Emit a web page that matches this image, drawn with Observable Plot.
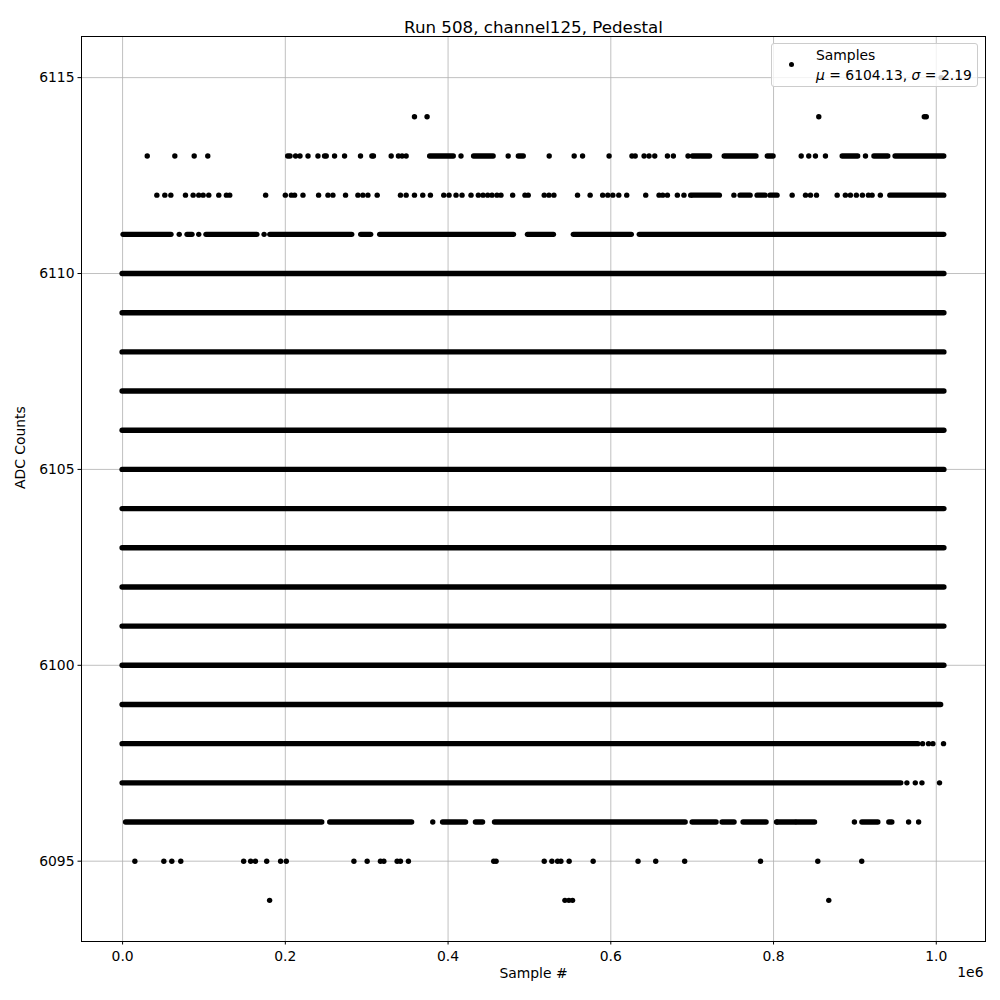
<!DOCTYPE html>
<html>
<head>
<meta charset="utf-8">
<script src="https://cdn.jsdelivr.net/npm/d3@7"></script>
<script src="https://cdn.jsdelivr.net/npm/@observablehq/plot@0.6"></script>
<style>
  html, body { margin: 0; padding: 0; background: #fff; }
  #wrap { position: relative; width: 1000px; height: 1000px; font-family: "DejaVu Sans", sans-serif; }
  #legend { position: absolute; left: 771px; top: 43px; width: 205px; height: 42px;
    background: rgba(255,255,255,0.8); border: 1px solid #cccccc; border-radius: 3px; }
  #legend .dot { position: absolute; left: 17px; top: 18px; width: 5.4px; height: 5.4px; border-radius: 50%; background: #000; }
  #legend .l1 { position: absolute; left: 44px; top: 1px; font-size: 13.9px; line-height: 20px; white-space: nowrap; }
  #legend .l2 { position: absolute; left: 44px; top: 21px; font-size: 13.9px; line-height: 20px; white-space: nowrap; }
  #legend i { font-style: oblique; }
</style>
</head>
<body>
<div id="wrap"></div>
<script>
// ---------- data ----------
const title = "Run 508, channel125, Pedestal";
const xLabel = "Sample #";
const yLabel = "ADC Counts";
const legendLabel = "Samples";
const legendMu = "6104.13";
const legendSigma = "2.19";
const xTicks = [0, 200000, 400000, 600000, 800000, 1000000];
const yTicks = [6095, 6100, 6105, 6110, 6115];

// rows that are densely filled (ADC level, first sample, last sample)
const denseLevels = [6110, 6109, 6108, 6107, 6106, 6105, 6104, 6103, 6102, 6101, 6100, 6099, 6098, 6097];
const denseStart  = [0, 0, 0, 0, 0, 0, 0, 0, 0, 0, 0, 0, 0, 0];
const denseEnd    = [1010000, 1010000, 1010000, 1010000, 1010000, 1010000, 1010000, 1010000, 1010000, 1010000, 1010000, 1006000, 977900, 957000];

// runs of densely packed samples in the sparse rows: [start, end]
const runs6113 = [[203500, 206400], [378000, 407000], [432000, 456000], [487000, 493000], [701000, 722000], [740000, 779000], [793000, 800000], [885000, 904000], [924000, 941000], [950000, 1009800]];
const runs6112 = [[701000, 734000], [759500, 771800], [780400, 790200], [796300, 804900], [943600, 1009800]];
const runs6111 = [[1200, 60100], [79800, 85900], [103100, 165600], [181600, 282200], [293300, 305500], [316600, 481000], [498200, 530100], [554600, 625800], [635600, 1009800]];
const runs6096 = [[4300, 245400], [255200, 339900], [342300, 355800], [393900, 422100], [434300, 443000], [457700, 692000], [700600, 730000], [737400, 752100], [763200, 791400], [805300, 827000], [828900, 851000], [909200, 928800], [942300, 946000]];

// isolated samples
const dots6115 = [1006000];
const dots6114 = [358700, 374200, 855600, 985300, 987700];
const dots6113 = [30300, 64200, 88000, 104700, 212600, 218000, 227900, 240100, 248200, 250300, 260500, 272800, 292400, 306400, 308300, 330100, 339000, 343500, 348500, 415900, 473900, 524300, 555000, 565300, 597900, 626000, 630000, 640900, 647000, 654000, 669600, 676900, 694900, 834000, 843300, 851500, 863800, 913000];
const dots6112 = [42100, 51900, 59300, 77300, 86700, 93600, 99000, 105900, 118200, 127600, 131700, 175800, 200000, 207400, 211400, 221700, 240900, 252400, 258500, 274000, 289200, 295300, 301500, 312900, 341500, 348500, 358700, 368900, 378300, 394700, 401200, 409800, 417200, 428200, 437200, 443000, 448700, 454000, 460100, 465000, 479400, 494500, 498500, 518200, 524000, 530100, 559100, 574600, 590000, 596300, 602500, 609800, 619600, 642900, 659300, 663800, 669600, 681800, 689900, 698200, 751300, 822900, 839300, 845400, 852800, 878200, 888300, 894500, 901800, 909200, 916600, 921100, 931300];
const dots6111 = [69600, 93600, 173900];
const dots6098 = [983200, 990500, 995900, 1008900];
const dots6097 = [963900, 974200, 982400, 1004000];
const dots6096 = [381200, 803700, 899400, 966000, 978300];
const dots6095 = [15100, 50700, 60500, 71500, 148800, 157400, 163200, 177100, 194200, 201200, 284300, 300600, 316900, 321100, 337400, 341500, 351300, 456100, 459000, 518200, 527600, 534600, 538700, 548800, 578300, 633500, 655200, 690800, 784000, 854400, 908400];
const dots6094 = [180700, 543600, 548500, 553000, 867900];

// ---------- build tables ----------
const segs = [];
denseLevels.forEach((v, i) => segs.push({y: v, x1: denseStart[i], x2: denseEnd[i]}));
[[6113, runs6113], [6112, runs6112], [6111, runs6111], [6096, runs6096]].forEach(([v, rs]) =>
  rs.forEach(([a, b]) => segs.push({y: v, x1: a, x2: b})));
const pts = [];
[[6115, dots6115], [6114, dots6114], [6113, dots6113], [6112, dots6112], [6111, dots6111],
 [6098, dots6098], [6097, dots6097], [6096, dots6096], [6095, dots6095], [6094, dots6094]]
  .forEach(([v, xs]) => xs.forEach(x => pts.push({x, y: v})));

const FONT = "DejaVu Sans, sans-serif";
const chart = Plot.plot({
  width: 1000, height: 1000,
  marginLeft: 81, marginRight: 15, marginTop: 36, marginBottom: 59,
  style: {fontFamily: FONT, fontSize: "13.9px", color: "#000", background: "#fff"},
  x: {domain: [-50500, 1060500], ticks: xTicks, tickFormat: d => (d / 1e6).toFixed(1)},
  y: {domain: [6092.95, 6116.05], ticks: yTicks, tickFormat: d => String(d)},
  marks: [
    Plot.gridX(xTicks, {stroke: "#b0b0b0", strokeOpacity: 1, strokeWidth: 0.8}),
    Plot.gridY(yTicks, {stroke: "#b0b0b0", strokeOpacity: 1, strokeWidth: 0.8}),
    Plot.ruleY(segs, {y: "y", x1: "x1", x2: "x2", stroke: "#000", strokeWidth: 5.4, strokeLinecap: "round"}),
    Plot.dot(pts, {x: "x", y: "y", r: 2.7, fill: "#000", stroke: "none"}),
    Plot.frame({stroke: "#000", strokeWidth: 1}),
    Plot.axisX(xTicks, {tickSize: 3.5, tickPadding: 6, label: null, fontSize: 13.9, tickFormat: d => (d / 1e6).toFixed(1)}),
    Plot.axisY(yTicks, {tickSize: 3.5, tickPadding: 3.5, label: null, fontSize: 13.9, tickFormat: d => String(d)}),
    Plot.text([title], {frameAnchor: "top", dy: -15, fontSize: 16.7, text: d => d}),
    Plot.text([xLabel], {frameAnchor: "bottom", dy: 36, fontSize: 13.9, text: d => d}),
    Plot.text([yLabel], {frameAnchor: "left", dx: -61, rotate: -90, fontSize: 13.9, text: d => d}),
    Plot.text(["1e6"], {frameAnchor: "bottom-right", dy: 35, dx: -2, textAnchor: "end", fontSize: 13.9, text: d => d})
  ]
});
const wrap = document.getElementById("wrap");
wrap.appendChild(chart);

const lg = document.createElement("div");
lg.id = "legend";
lg.innerHTML = `<div class="dot"></div><div class="l1">${legendLabel}</div>` +
  `<div class="l2"><i>μ</i> = ${legendMu}, <i>σ</i> = ${legendSigma}</div>`;
wrap.appendChild(lg);
</script>
</body>
</html>
